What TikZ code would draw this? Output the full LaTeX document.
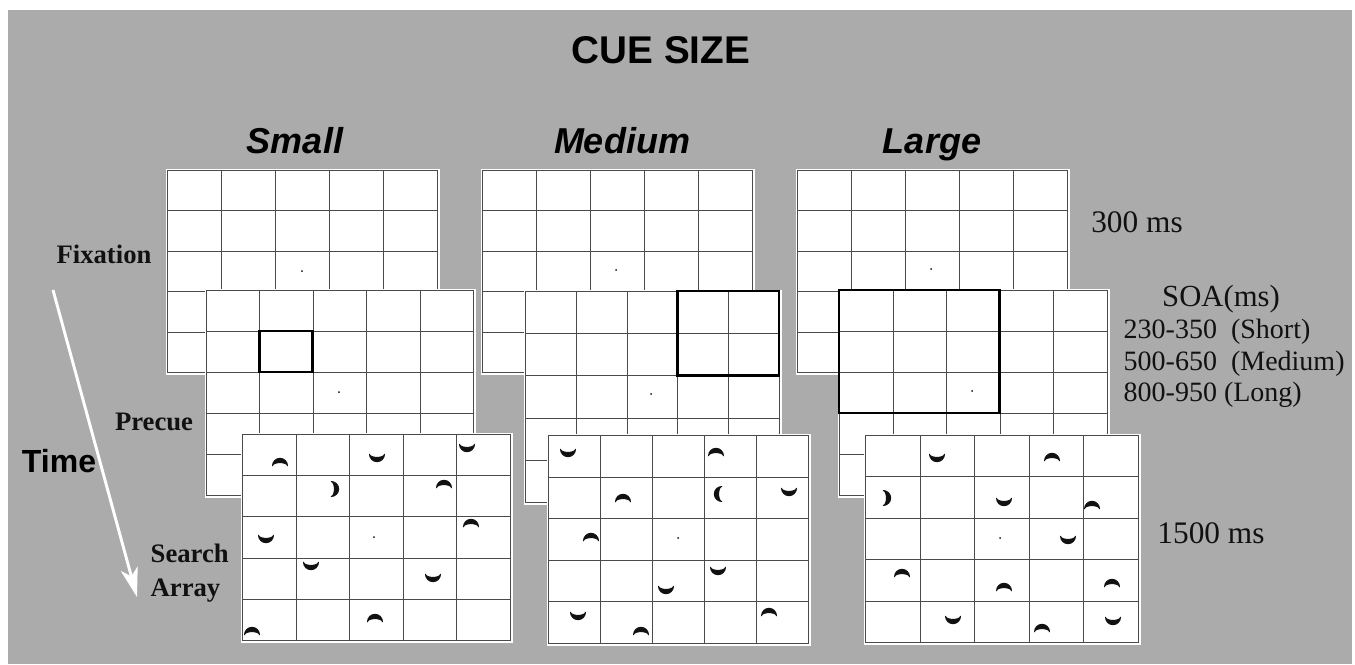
\documentclass[tikz,border=0pt]{standalone}
\usepackage{fontspec}
\setmainfont{Liberation Serif}
\setsansfont{Liberation Sans}
\usetikzlibrary{arrows.meta,calc}
\definecolor{Backdrop}{HTML}{ABABAB}
\definecolor{Grid}{HTML}{4A4A4A}
\definecolor{Ink}{HTML}{111111}
\tikzset{panel/.style 2 args={rectangle,anchor=north west,inner sep=0pt,
    fill=white,draw=Grid,line width=0.8pt,
    minimum width=#1*0.75pt,minimum height=#2*0.75pt,
    preaction={draw=white,line width=3pt},
    path picture={
      \foreach \k in {1,...,4}{
        \draw[Grid,line width=0.8pt]
          ($(path picture bounding box.north west)!\k/5!(path picture bounding box.north east)$)--
          ($(path picture bounding box.south west)!\k/5!(path picture bounding box.south east)$);
        \draw[Grid,line width=0.8pt]
          ($(path picture bounding box.north west)!\k/5!(path picture bounding box.south west)$)--
          ($(path picture bounding box.north east)!\k/5!(path picture bounding box.south east)$);
      }}},
  cuebox/.style={draw=black,line width=2.2pt},
  fixdot/.style={fill=Ink},
  headline/.style={anchor=base,font=\sffamily\bfseries\fontsize{29}{32}\selectfont,text=black},
  sizelabel/.style={anchor=base,font=\sffamily\bfseries\itshape\fontsize{27}{30}\selectfont,text=black},
  phase/.style={font=\bfseries\fontsize{20}{26}\selectfont,text=Ink,align=left},
  timing/.style={anchor=base,font=\fontsize{23.5}{28}\selectfont,text=Ink},
  soaline/.style={anchor=base west,font=\fontsize{21}{24}\selectfont,text=Ink},
  timeedge/.style={-{Stealth[length=22pt,width=13pt,inset=6pt]},draw=white,line width=2.2pt},
  cup/.pic={\filldraw[Ink,line width=0.7pt,line join=round] (-7.5,-3.8) arc[start angle=180,end angle=0,radius=7.5]
      arc[start angle=0,end angle=180,x radius=7.5,y radius=3.2] -- cycle;}}
\begin{document}
\begin{tikzpicture}[x=0.75pt,y=-0.75pt]
  \useasboundingbox (0,0) rectangle (1355,664);
  \fill[white] (0,0) rectangle (1355,664);
  \fill[Backdrop] (8,10) rectangle (1352,664);
  % headings
  \node[headline] (title) at (661,63) {CUE SIZE};
  \node[sizelabel] (small) at (295,153) {Small};
  \node[sizelabel] (medium) at (622,153) {Medium};
  \node[sizelabel] (large) at (932,153) {Large};
  % small cue
  \node[panel={270}{202}] (sf) at (167,170) {};
  \fill[fixdot] (302,271) circle[radius=1];
  \node[panel={267}{205}] (sp) at (206,290) {};
  \draw[cuebox] (259.4,331) rectangle (312.8,372);
  \fill[fixdot] (339,392) circle[radius=1];
  \node[panel={268}{206}] (ss) at (242,434) {};
  \fill[fixdot] (374,537) circle[radius=1];
  \foreach \sx/\sy/\sr in {280/462/180,377/458/0,467/448/0,335/489/90,444/484/180,266/539/0,
      471/523/180,311/566/0,433/578/0,375/618/180,252/631/180}
    \pic[rotate=\sr] at (\sx,\sy) {cup};
  % medium cue
  \node[panel={270}{202}] (mf) at (482,170) {};
  \fill[fixdot] (616,270) circle[radius=1];
  \node[panel={254}{211}] (mp) at (525,291) {};
  \draw[cuebox] (677.4,291) rectangle (779,375.4);
  \fill[fixdot] (651,394) circle[radius=1];
  \node[panel={260}{208}] (ms) at (548,435) {};
  \fill[fixdot] (678,538) circle[radius=1];
  \foreach \sx/\sy/\sr in {568/453/0,716/452/180,623/498/180,718/494/-90,789/492/0,591/537/180,
      718/571/0,666/590/0,578/616/0,641/631/180,769/612/180}
    \pic[rotate=\sr] at (\sx,\sy) {cup};
  % large cue
  \node[panel={270}{202}] (lf) at (797,170) {};
  \fill[fixdot] (931,269) circle[radius=1];
  \node[panel={268}{205}] (lp) at (839,290) {};
  \draw[cuebox] (839,290) rectangle (999.8,413);
  \fill[fixdot] (972,391) circle[radius=1];
  \node[panel={273}{207}] (ls) at (865,435) {};
  \fill[fixdot] (1000,538) circle[radius=1];
  \foreach \sx/\sy/\sr in {937/458/0,1052/457/180,887/498/90,1004/502/0,1092/505/180,1068/540/0,
      902/573/180,1004/587/180,1112/583/180,953/620/0,1042/628/180,1113/621/0}
    \pic[rotate=\sr] at (\sx,\sy) {cup};
  % phases and time
  \node[phase,anchor=base] (fix) at (104,263) {Fixation};
  \node[phase,anchor=base] (pre) at (154,430) {Precue};
  \node[phase,anchor=west] (srch) at (146,573) {Search\\Array};
  \node[anchor=base,font=\sffamily\bfseries\fontsize{24}{28}\selectfont,text=black] (time) at (59,472) {Time};
  \coordinate (tstart) at (53,290);
  \coordinate (tend) at (137,597);
  \draw[timeedge] (tstart) -- (tend);
  % durations
  \node[timing] (t300) at (1137,232) {300 ms};
  \node[timing,font=\fontsize{23}{28}\selectfont] (soa) at (1221,306) {SOA(ms)};
  \node[soaline] (soashort) at (1119,338) {230-350\ \ (Short)};
  \node[soaline] (soamed) at (1119,370) {500-650\ \ (Medium)};
  \node[soaline] (soalong) at (1119,401) {800-950 (Long)};
  \node[timing] (t1500) at (1211,543) {1500 ms};
\end{tikzpicture}
\end{document}
